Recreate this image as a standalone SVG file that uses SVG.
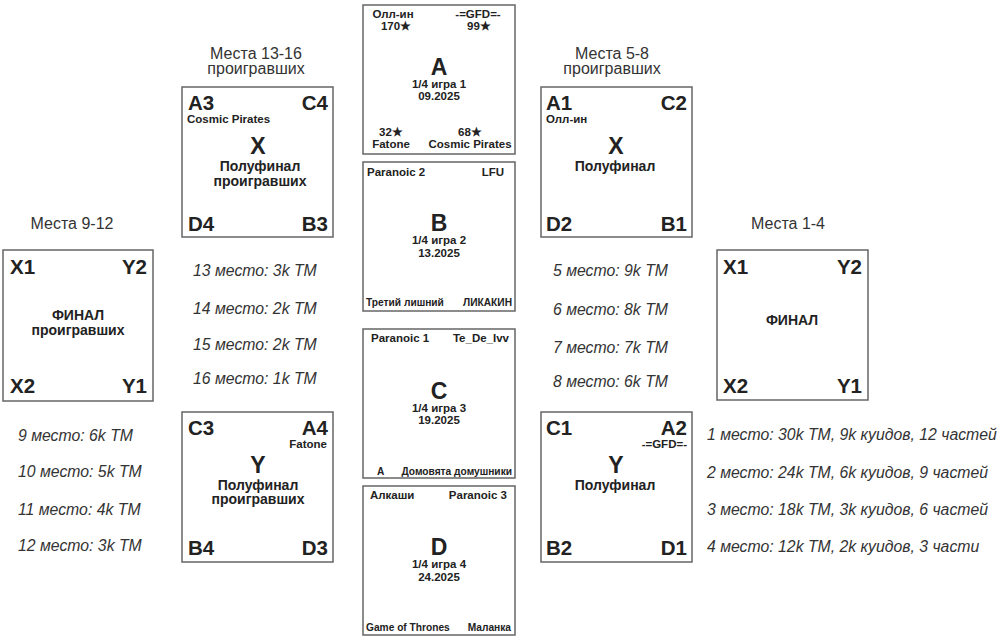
<svg xmlns="http://www.w3.org/2000/svg" width="1000" height="641" viewBox="0 0 1000 641">
<style>
.box{fill:#fff;stroke:#666;stroke-width:1.5}
text{font-family:"Liberation Sans",Arial,sans-serif;fill:#222}
.s{font-size:11.5px;font-weight:bold}
.b{font-size:10.2px;font-weight:bold}
.cn{font-size:11.5px;font-weight:bold}
.big{font-size:23px;font-weight:bold}
.c{text-anchor:middle}
.e{text-anchor:end}
.cor{font-size:20.5px;font-weight:bold}
.mid{font-size:14px;font-weight:bold}
.hd{font-size:16px;fill:#333}
.it{font-size:15.8px;font-style:italic;fill:#333}
</style>
<rect width="1000" height="641" fill="#fff"/>
<g id="connectors"></g>

<g id="game-A">
<rect class="box" x="363" y="5" width="152" height="149"/>
<text class="s c" x="393" y="18">Олл-ин</text>
<text class="s c" x="396" y="30">170★</text>
<text class="s c" x="478" y="18">-=GFD=-</text>
<text class="s c" x="479" y="30">99★</text>
<text class="big c" x="439" y="75">A</text>
<text class="cn c" x="439" y="88">1/4 игра 1</text>
<text class="cn c" x="439" y="100">09.2025</text>
<text class="s c" x="391" y="136">32★</text>
<text class="s c" x="391" y="148">Fatone</text>
<text class="s c" x="470" y="136">68★</text>
<text class="s c" x="470" y="148">Cosmic Pirates</text>
</g>

<g id="game-B">
<rect class="box" x="363" y="162" width="152" height="149"/>
<text class="s" x="367" y="176">Paranoic 2</text>
<text class="s e" x="504" y="176">LFU</text>
<text class="big c" x="439" y="231">B</text>
<text class="cn c" x="439" y="244">1/4 игра 2</text>
<text class="cn c" x="439" y="257">13.2025</text>
<text class="b" x="366" y="306">Третий лишний</text>
<text class="b e" x="512" y="306">ЛИКАКИН</text>
</g>

<g id="game-C">
<rect class="box" x="363" y="329" width="152" height="149"/>
<text class="s" x="371" y="342">Paranoic 1</text>
<text class="s e" x="509" y="342">Te_De_Ivv</text>
<text class="big c" x="439" y="399">C</text>
<text class="cn c" x="439" y="412">1/4 игра 3</text>
<text class="cn c" x="439" y="424">19.2025</text>
<text class="b" x="377" y="475">A</text>
<text class="b e" x="512" y="475">Домовята домушники</text>
</g>

<g id="game-D">
<rect class="box" x="363" y="486" width="152" height="149"/>
<text class="s" x="370" y="499">Алкаши</text>
<text class="s e" x="507" y="499">Paranoic 3</text>
<text class="big c" x="439" y="555">D</text>
<text class="cn c" x="439" y="568">1/4 игра 4</text>
<text class="cn c" x="439" y="581">24.2025</text>
<text class="b" x="366" y="631">Game of Thrones</text>
<text class="b e" x="511" y="631">Маланка</text>
</g>

<g id="header-13-16">
<text class="hd c" x="256" y="59">Места 13-16</text>
<text class="hd c" x="256" y="74">проигравших</text>
</g>

<g id="semi-losers-X">
<rect class="box" x="182" y="87" width="151" height="150"/>
<text class="cor" x="188" y="110">A3</text>
<text class="cor e" x="328" y="110">C4</text>
<text class="s" x="187" y="123">Cosmic Pirates</text>
<text class="big c" x="258" y="154">X</text>
<text class="mid c" x="260" y="171">Полуфинал</text>
<text class="mid c" x="260" y="186">проигравших</text>
<text class="cor" x="188" y="231">D4</text>
<text class="cor e" x="328" y="231">B3</text>
</g>

<g id="semi-losers-Y">
<rect class="box" x="182" y="412" width="151" height="150"/>
<text class="cor" x="188" y="435">C3</text>
<text class="cor e" x="328" y="435">A4</text>
<text class="s e" x="327" y="448">Fatone</text>
<text class="big c" x="258" y="473">Y</text>
<text class="mid c" x="258" y="490">Полуфинал</text>
<text class="mid c" x="258" y="504">проигравших</text>
<text class="cor" x="188" y="555">B4</text>
<text class="cor e" x="328" y="555">D3</text>
</g>

<g id="prizes-13-16">
<text class="it" x="193" y="276">13 место: 3k TM</text>
<text class="it" x="193" y="314">14 место: 2k TM</text>
<text class="it" x="193" y="350">15 место: 2k TM</text>
<text class="it" x="193" y="384">16 место: 1k TM</text>
</g>

<g id="header-5-8">
<text class="hd c" x="612" y="59">Места 5-8</text>
<text class="hd c" x="612" y="74">проигравших</text>
</g>

<g id="semi-X">
<rect class="box" x="541" y="87" width="151" height="150"/>
<text class="cor" x="546" y="110">A1</text>
<text class="cor e" x="687" y="110">C2</text>
<text class="s" x="546" y="123">Олл-ин</text>
<text class="big c" x="616" y="154">X</text>
<text class="mid c" x="615" y="171">Полуфинал</text>
<text class="cor" x="546" y="231">D2</text>
<text class="cor e" x="687" y="231">B1</text>
</g>

<g id="semi-Y">
<rect class="box" x="541" y="412" width="151" height="150"/>
<text class="cor" x="546" y="435">C1</text>
<text class="cor e" x="687" y="435">A2</text>
<text class="s e" x="687" y="448">-=GFD=-</text>
<text class="big c" x="616" y="473">Y</text>
<text class="mid c" x="615" y="490">Полуфинал</text>
<text class="cor" x="546" y="555">B2</text>
<text class="cor e" x="687" y="555">D1</text>
</g>

<g id="prizes-5-8">
<text class="it" x="553" y="276">5 место: 9k TM</text>
<text class="it" x="553" y="315">6 место: 8k TM</text>
<text class="it" x="553" y="353">7 место: 7k TM</text>
<text class="it" x="553" y="387">8 место: 6k TM</text>
</g>

<g id="final-losers">
<text class="hd c" x="72" y="229">Места 9-12</text>
<rect class="box" x="3" y="250" width="150" height="151"/>
<text class="cor" x="10" y="274">X1</text>
<text class="cor e" x="147" y="274">Y2</text>
<text class="mid c" x="78" y="320">ФИНАЛ</text>
<text class="mid c" x="78" y="335">проигравших</text>
<text class="cor" x="10" y="393">X2</text>
<text class="cor e" x="147" y="393">Y1</text>
</g>

<g id="prizes-9-12">
<text class="it" x="18" y="441">9 место: 6k TM</text>
<text class="it" x="18" y="477">10 место: 5k TM</text>
<text class="it" x="18" y="515">11 место: 4k TM</text>
<text class="it" x="18" y="551">12 место: 3k TM</text>
</g>

<g id="final">
<text class="hd c" x="788" y="229">Места 1-4</text>
<rect class="box" x="717" y="250" width="151" height="150"/>
<text class="cor" x="723" y="274">X1</text>
<text class="cor e" x="862" y="274">Y2</text>
<text class="mid c" x="792" y="325">ФИНАЛ</text>
<text class="cor" x="723" y="393">X2</text>
<text class="cor e" x="862" y="393">Y1</text>
</g>

<g id="prizes-1-4">
<text class="it" x="707" y="440">1 место: 30k TM, 9k куидов, 12 частей</text>
<text class="it" x="707" y="478">2 место: 24k TM, 6k куидов, 9 частей</text>
<text class="it" x="707" y="515">3 место: 18k TM, 3k куидов, 6 частей</text>
<text class="it" x="707" y="552">4 место: 12k TM, 2k куидов, 3 части</text>
</g>
</svg>
